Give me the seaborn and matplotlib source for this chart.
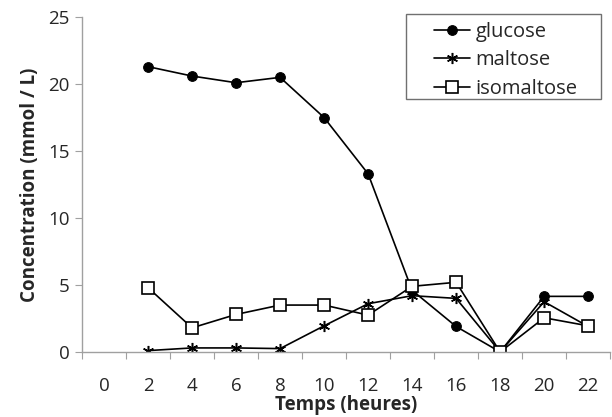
import matplotlib
matplotlib.use('Agg')
import matplotlib.pyplot as plt
from matplotlib.patches import Rectangle
import seaborn as sns

# données
heures = [2, 4, 6, 8, 10, 12, 14, 16, 18, 20, 22]
glucose = [21.3, 20.6, 20.1, 20.5, 17.5, 13.3, 4.6, 1.9, 0.0, 4.15, 4.15]
maltose = [0.1, 0.3, 0.3, 0.25, 1.95, 3.6, 4.2, 4.0, 0.0, 3.75, 1.9]
isomaltose = [4.8, 1.8, 2.8, 3.5, 3.5, 2.75, 4.9, 5.2, 0.0, 2.55, 1.95]
categories = [0, 2, 4, 6, 8, 10, 12, 14, 16, 18, 20, 22]

sns.set_style('white')
plt.rcParams['font.family'] = ['Open Sans', 'DejaVu Sans']

fig = plt.figure(figsize=(6.12, 4.17), dpi=100)
ax = fig.add_axes([0.134, 0.156, 0.863, 0.803])

sns.lineplot(x=heures, y=glucose, ax=ax, color='black', lw=1.2, marker='o',
             markersize=7, mfc='black', mec='black', label='glucose')
sns.lineplot(x=heures, y=maltose, ax=ax, color='black', lw=1.2, marker=(6, 2, 0),
             markersize=8, mec='black', mew=1.1, label='maltose')
sns.lineplot(x=heures, y=isomaltose, ax=ax, color='black', lw=1.2, marker='s',
             markersize=8.5, mfc='white', mec='black', mew=1.2, label='isomaltose')

ax.set_xlim(-1, 23)
ax.set_ylim(0, 25)
ax.set_yticks([0, 5, 10, 15, 20, 25])
# axe de catégories : graduations entre les catégories
ax.set_xticks([c - 1 for c in categories] + [23])
ax.set_xticklabels([])
ax.set_xticks(categories, minor=True)
ax.set_xticklabels([str(c) for c in categories], minor=True)
ax.tick_params(axis='x', which='major', direction='out', length=5, color='#a0a0a0', bottom=True)
ax.tick_params(axis='x', which='minor', length=0, pad=18, labelsize=13.5)
ax.tick_params(axis='y', direction='out', length=5, color='#a0a0a0', left=True, labelsize=13.5, pad=4)

for side in ['top', 'right']:
    ax.spines[side].set_visible(False)
for side in ['left', 'bottom']:
    ax.spines[side].set_color('#a0a0a0')
    ax.spines[side].set_linewidth(1)

ax.set_xlabel('Temps (heures)', fontsize=13.5, fontweight='bold', labelpad=0)
ax.set_ylabel('Concentration (mmol / L)', fontsize=13.5, fontweight='bold', labelpad=6)

# légende sans cadre + cadre plus large comme dans Excel
leg = ax.legend(loc='upper left', bbox_to_anchor=(434 / 612, 1 - 22 / 417),
                bbox_transform=fig.transFigure, fontsize=14.5, frameon=False,
                handlelength=1.8, handletextpad=0.25, borderpad=0, labelspacing=0.42,
                borderaxespad=0)
fig.patches.append(Rectangle((406 / 612, 1 - 99 / 417), 195 / 612, 85 / 417,
                             transform=fig.transFigure, fill=False,
                             edgecolor='#707070', lw=1))

fig.savefig('out.png', dpi=100)
